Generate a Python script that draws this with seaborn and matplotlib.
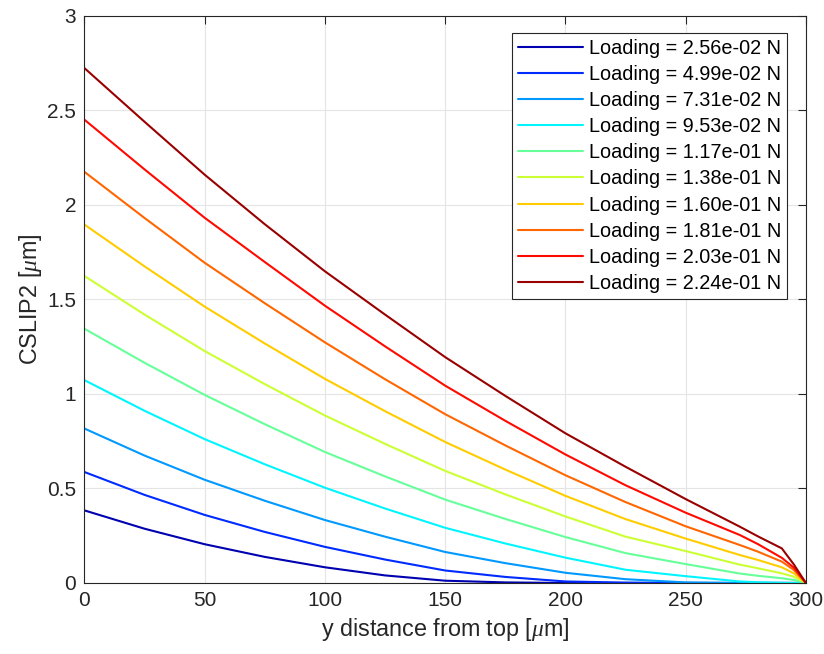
import numpy as np
import pandas as pd
import matplotlib
matplotlib.use("Agg")
import matplotlib.pyplot as plt
from matplotlib.ticker import FuncFormatter
import seaborn as sns

# ---- data ----
y_pos = [0, 25, 50, 75, 100, 125, 150, 175, 200, 225, 250, 272.5, 280, 290, 295, 300]

loads = ["2.56e-02", "4.99e-02", "7.31e-02", "9.53e-02", "1.17e-01",
         "1.38e-01", "1.60e-01", "1.81e-01", "2.03e-01", "2.24e-01"]

s1 = [0.384, 0.287, 0.205, 0.138, 0.083, 0.040, 0.012, 0.003, 0.0, 0.0, 0.0, 0.0, 0.0, 0.0, 0.0, 0.0]
s2 = [0.587, 0.466, 0.360, 0.270, 0.191, 0.124, 0.066, 0.032, 0.008, 0.002, 0.0, 0.0, 0.0, 0.0, 0.0, 0.0]
s3 = [0.817, 0.674, 0.546, 0.435, 0.333, 0.245, 0.164, 0.105, 0.054, 0.020, 0.003, 0.0, 0.0, 0.0, 0.0, 0.0]
s4 = [1.073, 0.911, 0.761, 0.628, 0.504, 0.394, 0.292, 0.209, 0.134, 0.070, 0.036, 0.008, 0.004, 0.001, 0.0, 0.0]
s5 = [1.345, 1.165, 0.995, 0.840, 0.693, 0.564, 0.441, 0.339, 0.243, 0.158, 0.100, 0.050, 0.038, 0.025, 0.016, 0.0]
s6 = [1.624, 1.420, 1.227, 1.052, 0.886, 0.736, 0.593, 0.469, 0.352, 0.245, 0.169, 0.097, 0.078, 0.051, 0.033, 0.0]
s7 = [1.896, 1.675, 1.462, 1.267, 1.080, 0.909, 0.746, 0.600, 0.461, 0.338, 0.235, 0.148, 0.122, 0.083, 0.051, 0.0]
s8 = [2.175, 1.931, 1.694, 1.480, 1.273, 1.078, 0.893, 0.728, 0.570, 0.428, 0.300, 0.201, 0.166, 0.113, 0.069, 0.0]
s9 = [2.451, 2.188, 1.932, 1.698, 1.467, 1.252, 1.044, 0.858, 0.680, 0.517, 0.372, 0.254, 0.206, 0.133, 0.081, 0.0]
s10 = [2.724, 2.440, 2.160, 1.898, 1.649, 1.420, 1.195, 0.990, 0.792, 0.615, 0.444, 0.298, 0.247, 0.183, 0.098, 0.0]
series = [s1, s2, s3, s4, s5, s6, s7, s8, s9, s10]

colors = ["#0000B0", "#002BFF", "#0099FF", "#00F5FF", "#66FF99",
          "#CCFF33", "#FFCC00", "#FF6600", "#FF0A00", "#990000"]

x_ticks = [0, 50, 100, 150, 200, 250, 300]
y_ticks = [0, 0.5, 1, 1.5, 2, 2.5, 3]

# ---- build long table ----
labels = [f"Loading = {l} N" for l in loads]
rows = []
for lab, vals in zip(labels, series):
    for xv, yv in zip(y_pos, vals):
        rows.append((xv, yv, lab))
df = pd.DataFrame(rows, columns=["y", "cslip", "load"])

sns.set_style("white")
plt.rcParams["font.family"] = ["Liberation Sans", "DejaVu Sans"]
plt.rcParams["mathtext.fontset"] = "custom"
plt.rcParams["mathtext.it"] = "Liberation Serif:italic"

fig = plt.figure(figsize=(8.24, 6.54), dpi=100)
ax = fig.add_axes([0.1025, 0.1086, 0.8755, 0.867])

sns.lineplot(data=df, x="y", y="cslip", hue="load", hue_order=labels,
             palette=colors, linewidth=1.5, errorbar=None, ax=ax, sort=False)

ax.set_xlim(0, 300)
ax.set_ylim(0, 3)
ax.set_xticks(x_ticks)
ax.set_yticks(y_ticks)
ax.yaxis.set_major_formatter(FuncFormatter(lambda v, p: f"{v:g}"))
ax.grid(True, color="#E5E5E5", linewidth=0.8)
ax.set_axisbelow(True)

axc = "#262626"
for sp in ax.spines.values():
    sp.set_visible(True)
    sp.set_color(axc)
    sp.set_linewidth(0.8)
ax.tick_params(direction="in", length=6, width=0.8, color=axc, labelcolor=axc,
               labelsize=15, top=True, right=True, pad=6)

ax.set_xlabel(r"y distance from top [$\mu$m]", fontsize=16.8, color=axc, labelpad=4)
ax.set_ylabel(r"CSLIP2 [$\mu$m]", fontsize=16.8, color=axc, labelpad=2)

leg = ax.legend(loc="upper right", bbox_to_anchor=(0.9737, 0.9705), borderaxespad=0,
                fontsize=14.3, frameon=True, fancybox=False, framealpha=1,
                edgecolor=axc, handlelength=3.27, handletextpad=0.3,
                labelspacing=0.36, borderpad=0.3, title=None)
leg.get_frame().set_linewidth(0.8)
for t in leg.get_texts():
    t.set_color("black")

fig.savefig("out.png", dpi=100)
